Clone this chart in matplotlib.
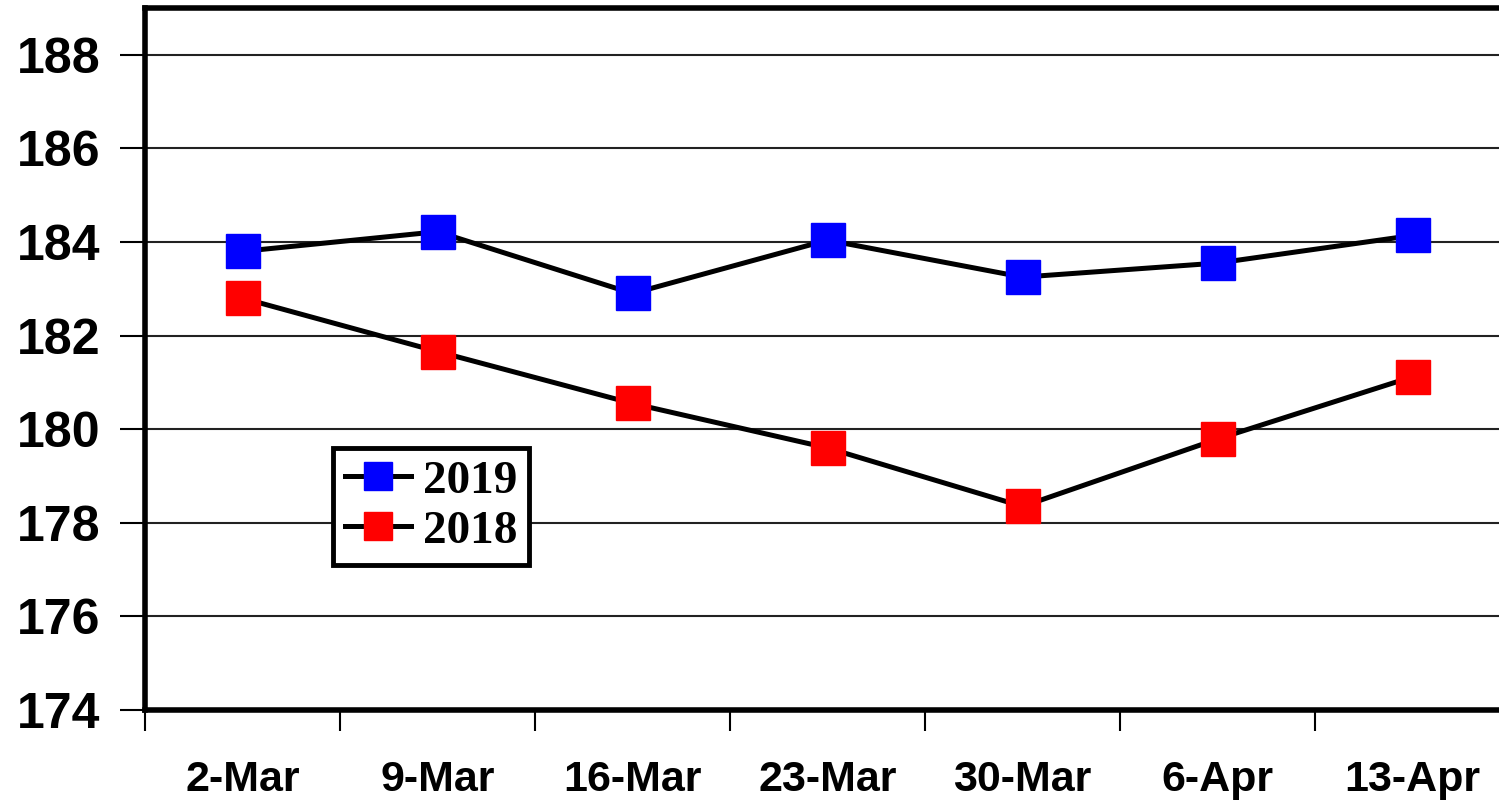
import matplotlib
matplotlib.use("Agg")
import matplotlib.pyplot as plt
from matplotlib.ticker import MultipleLocator

categories = ["2-Mar", "9-Mar", "16-Mar", "23-Mar", "30-Mar", "6-Apr", "13-Apr"]
values_2019 = [183.8, 184.22, 182.9, 184.04, 183.25, 183.55, 184.14]
values_2018 = [182.8, 181.66, 180.55, 179.6, 178.35, 179.79, 181.12]
y_ticks = [174, 176, 178, 180, 182, 184, 186, 188]

W, H = 1499, 802
fig = plt.figure(figsize=(W / 100, H / 100), dpi=100)
left, right, top, bottom = 145, 1510, 8, 710
ax = fig.add_axes([left / W, 1 - bottom / H, (right - left) / W, (bottom - top) / H])

x = list(range(len(categories)))
ax.plot(x, values_2019, color="black", lw=3.6, marker="s", ms=25,
        mfc="#0000FF", mec="#0000FF", label="2019", zorder=3)
ax.plot(x, values_2018, color="black", lw=3.6, marker="s", ms=25,
        mfc="#FF0000", mec="#FF0000", label="2018", zorder=3)

ax.set_xlim(-0.5, len(categories) - 0.5)
ax.set_ylim(174, 189)
ax.set_yticks(y_ticks)
ax.set_yticklabels([str(v) for v in y_ticks], fontsize=36, fontweight="bold",
                   family="Liberation Sans")
ax.set_xticks(x)
ax.set_xticklabels(categories, fontsize=31, fontweight="bold", family="Liberation Sans")
ax.xaxis.set_minor_locator(MultipleLocator(1, offset=0.5))
ax.tick_params(axis="x", which="major", length=0, pad=36)
ax.tick_params(axis="x", which="minor", length=15, width=1.5, color="black")
ax.tick_params(axis="y", length=18, width=1.5, pad=14)
ax.grid(axis="y", color="#222222", lw=1.5)
ax.set_axisbelow(True)
for s in ["left", "top", "bottom"]:
    ax.spines[s].set_linewidth(4)
ax.spines["right"].set_visible(False)

leg = fig.legend(loc="upper left", bbox_to_anchor=(333 / W, 1 - 448 / H),
                 prop={"family": "Liberation Serif", "weight": "bold", "size": 34},
                 frameon=True, fancybox=False, markerscale=0.8, handlelength=1.4,
                 handletextpad=0.25, borderpad=0.25, labelspacing=0.15,
                 borderaxespad=0, framealpha=1)
leg.get_frame().set_edgecolor("black")
leg.get_frame().set_linewidth(3.5)

fig.savefig("out.png", dpi=100)
